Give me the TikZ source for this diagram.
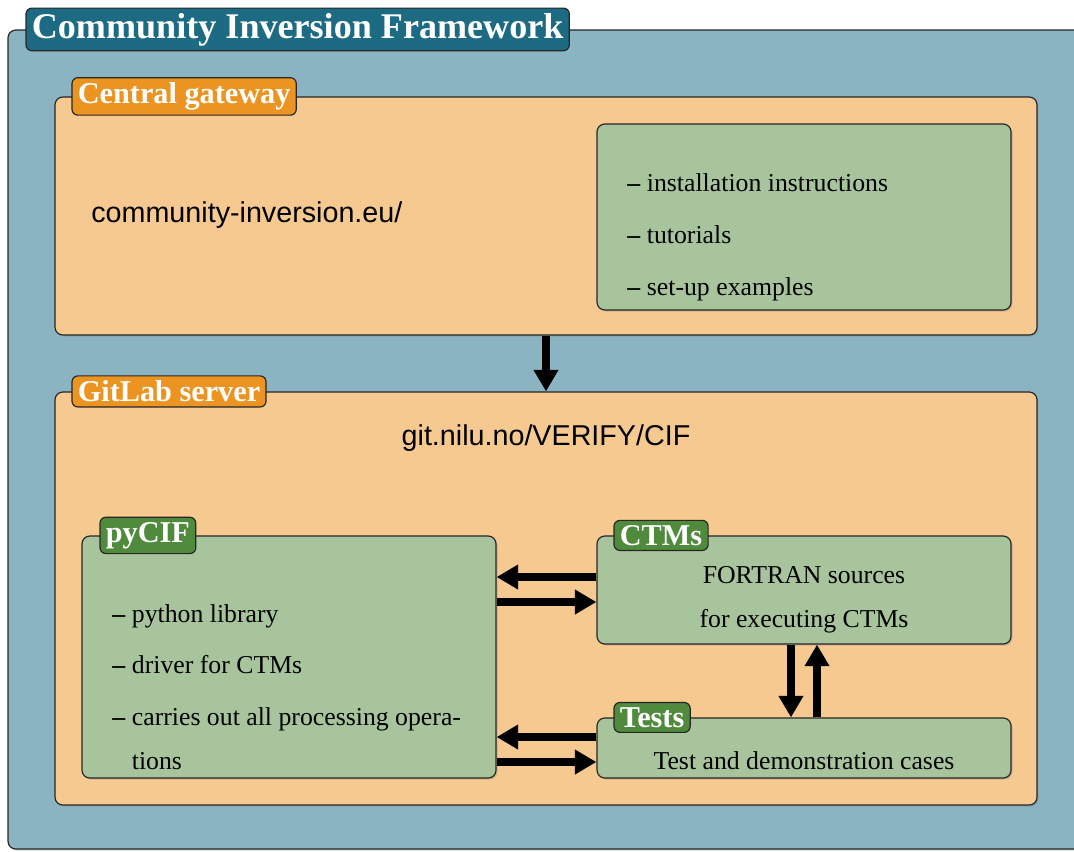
\documentclass[tikz,border=0pt]{standalone}
\usepackage{fontspec}
\setmainfont{Liberation Serif}
\setsansfont{Liberation Sans}
\usetikzlibrary{calc,fit,shadows,arrows.meta}
\definecolor{frameblue}{RGB}{139,180,194}
\definecolor{titleteal}{RGB}{28,107,130}
\definecolor{paleorange}{RGB}{245,201,144}
\definecolor{tagorange}{RGB}{236,148,33}
\definecolor{palegreen}{RGB}{168,196,156}
\definecolor{taggreen}{RGB}{80,138,60}
\newcommand{\itemdash}{\textbf{–}\ }

\begin{document}
\begin{tikzpicture}[x=0.018cm, y=-0.018cm,
  panel/.style={draw=black!85, line width=0.6pt, rounded corners=4pt, fill=#1, inner sep=0pt,
    drop shadow={shadow xshift=0.8pt, shadow yshift=-0.8pt, opacity=0.35}},
  tag/.style={draw=black!85, line width=0.6pt, rounded corners=3pt, fill=#1, text=white, anchor=west,
    inner xsep=3pt, inner ysep=2.5pt, font=\fontsize{15.5}{18}\selectfont\bfseries},
  bigarrow/.style={line width=4.3pt, -{Triangle[length=11pt,width=12pt]}},
  body/.style={font=\fontsize{13.2}{22.5}\selectfont},
  url/.style={font=\sffamily\fontsize{14.7}{18}\selectfont}]
\useasboundingbox (0,0) rectangle (1074,851);

% frames
\node[panel=frameblue, fit={(8,30) (1100,849)}] (cif) {};
\node[panel=paleorange, fit={(55,97) (1037,335)}] (gateway) {};
\node[panel=palegreen, fit={(597,124) (1011,310)}] (docs) {};
\node[panel=paleorange, fit={(55,392) (1037,805)}] (gitlab) {};
\node[panel=palegreen, fit={(82,536) (496,778)}] (pycif) {};
\node[panel=palegreen, fit={(597,536) (1011,644)}] (ctms) {};
\node[panel=palegreen, fit={(597,718) (1011,778)}] (tests) {};

% texts
\node[url, anchor=west, inner sep=0pt] (site) at (91,215) {community-inversion.eu/};
\node[anchor=west, align=left, inner sep=0pt, font=\fontsize{13.2}{26.6}\selectfont] (doclist) at (627,237)
  {\itemdash installation instructions\\ \itemdash tutorials\\ \itemdash set-up examples};
\node[url] (repo) at (546,438) {git.nilu.no/VERIFY/CIF};
\node[body, anchor=west, align=left, inner sep=0pt] (pylist) at (112,687)
  {\itemdash python library\\[4pt] \itemdash driver for CTMs\\[4pt] \itemdash carries out all processing opera-\\ \phantom{\itemdash}tions};
\node[body, align=center] (ctmtext) at (804,600) {FORTRAN sources\\ for executing CTMs};
\node[body] (testtext) at (804,761) {Test and demonstration cases};

% tags
\node[tag=titleteal, font=\fontsize{18.5}{22}\selectfont\bfseries] (titletag) at ($(cif.north west)+(18,0)$) {Community Inversion Framework};
\node[tag=tagorange] (gatetag) at ($(gateway.north west)+(17,0)$) {Central gateway};
\node[tag=tagorange] (gittag) at ($(gitlab.north west)+(17,0)$) {GitLab server};
\node[tag=taggreen] (pytag) at ($(pycif.north west)+(18,0)$) {pyCIF};
\node[tag=taggreen] (ctmtag) at ($(ctms.north west)+(17,0)$) {CTMs};
\node[tag=taggreen] (testtag) at ($(tests.north west)+(17,0)$) {Tests};

% arrows
\draw[bigarrow] (gateway.south) -- (gitlab.north);
\coordinate (ctl) at ($(ctms.west)+(0,-13)$);
\coordinate (ctr) at ($(ctms.west)+(0,12)$);
\coordinate (tsl) at ($(tests.west)+(0,-11)$);
\coordinate (tsr) at ($(tests.west)+(0,14)$);
\draw[bigarrow] (ctl) -- (ctl -| pycif.east);
\draw[bigarrow] (ctr -| pycif.east) -- (ctr);
\draw[bigarrow] (tsl) -- (tsl -| pycif.east);
\draw[bigarrow] (tsr -| pycif.east) -- (tsr);
\coordinate (down) at ($(ctms.south)+(-13,0)$);
\coordinate (up) at ($(ctms.south)+(13,0)$);
\draw[bigarrow] (down) -- (down |- tests.north);
\draw[bigarrow] (up |- tests.north) -- (up);
\end{tikzpicture}
\end{document}
